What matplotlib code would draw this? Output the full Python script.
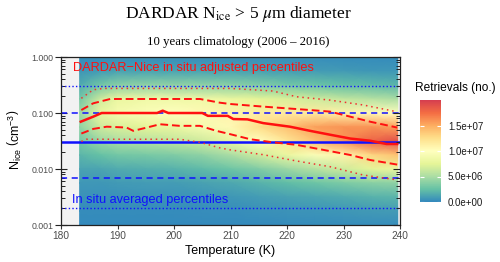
import numpy as np
import matplotlib
matplotlib.use("Agg")
import matplotlib.pyplot as plt
from matplotlib.colors import LinearSegmentedColormap
from matplotlib.ticker import LogLocator, NullFormatter

plt.rcParams['font.family'] = ['Liberation Sans', 'DejaVu Sans']
plt.rcParams['mathtext.fontset'] = 'custom'
plt.rcParams['mathtext.rm'] = 'Liberation Sans'
plt.rcParams['mathtext.it'] = 'Liberation Sans:italic'
plt.rcParams['mathtext.bf'] = 'Liberation Sans:bold'

# heatmap: number of retrievals (millions)
grid_temps = [183.3, 187, 190, 195, 200, 205, 210, 215, 220, 225, 230, 235, 239.6]
grid_log_nice = [0, -0.25, -0.5, -0.75, -1.0, -1.25, -1.5, -1.75, -2.0, -2.25, -2.5, -2.75, -3.0]
# one row per temperature, from log N = 0 down to -3
retrievals_millions = [
    [0.2, 0.6, 1.5, 3.0, 4.5, 4.0, 3.0, 2.0, 1.2, 0.7, 0.4, 0.2, 0.1],
    [0.2, 0.9, 3.0, 6.5, 8.0, 6.5, 4.5, 2.5, 1.3, 0.7, 0.4, 0.2, 0.1],
    [0.3, 1.1, 3.8, 8.0, 9.0, 7.0, 5.0, 3.0, 1.5, 0.8, 0.4, 0.2, 0.1],
    [0.3, 1.2, 4.0, 8.5, 9.5, 7.5, 5.5, 3.2, 1.7, 0.9, 0.5, 0.2, 0.1],
    [0.3, 1.2, 4.0, 8.5, 10.0, 8.0, 6.0, 3.5, 1.8, 0.9, 0.5, 0.2, 0.1],
    [0.3, 1.2, 4.0, 8.5, 10.5, 9.0, 6.5, 4.0, 2.2, 1.1, 0.6, 0.3, 0.1],
    [0.3, 1.2, 3.8, 8.0, 11.0, 10.5, 8.0, 5.0, 2.8, 1.4, 0.7, 0.3, 0.1],
    [0.3, 1.1, 3.5, 7.5, 11.5, 12.5, 10.0, 6.5, 3.5, 1.8, 0.9, 0.4, 0.15],
    [0.3, 1.0, 3.0, 7.0, 11.5, 14.0, 12.0, 8.0, 4.5, 2.3, 1.1, 0.5, 0.2],
    [0.3, 0.9, 2.7, 6.5, 11.5, 15.5, 14.0, 9.5, 5.5, 2.8, 1.3, 0.6, 0.2],
    [0.2, 0.8, 2.4, 6.0, 11.0, 16.0, 16.0, 11.0, 6.5, 3.3, 1.5, 0.7, 0.25],
    [0.2, 0.7, 2.2, 5.5, 10.5, 16.0, 18.0, 13.0, 7.5, 3.8, 1.8, 0.8, 0.3],
    [0.2, 0.7, 2.0, 5.0, 10.0, 15.5, 19.0, 14.0, 8.0, 4.0, 2.0, 0.9, 0.3],
]

# DARDAR-Nice in situ adjusted percentiles
med_temp = [183.5, 185.7, 187.2, 197, 198, 199, 205, 206, 209.5, 210.5, 213, 215.8,
            220.5, 224.1, 227.6, 231.2, 234.7, 237.6, 239.5]
med_nice = [0.070, 0.086, 0.100, 0.100, 0.110, 0.100, 0.100, 0.089, 0.089, 0.078, 0.077, 0.066,
            0.057, 0.048, 0.041, 0.035, 0.032, 0.028, 0.028]
p75_temp = [183.6, 185.7, 188.7, 204.6, 208.1, 209.9, 215.8, 224.1, 227.6, 231.2, 234.7, 239.5]
p75_nice = [0.113, 0.149, 0.178, 0.178, 0.153, 0.145, 0.13, 0.113, 0.106, 0.086, 0.07, 0.055]
p25_temp = [183.6, 185.7, 188.1, 191.6, 192.8, 195.2, 197.5, 201, 204.6, 207.5, 209.9,
            213.5, 217.5, 221.7, 226.4, 231.2, 234.7, 239.5]
p25_nice = [0.043, 0.052, 0.057, 0.055, 0.048, 0.055, 0.063, 0.059, 0.059, 0.048, 0.042,
            0.034, 0.030, 0.027, 0.022, 0.0178, 0.0145, 0.012]
p90_temp = [183.6, 185.7, 187.5, 210, 217.5, 221.7, 227.6, 233.5, 239.5]
p90_nice = [0.183, 0.26, 0.275, 0.275, 0.247, 0.195, 0.17, 0.139, 0.105]
p10_temp = [183.6, 184.5, 201, 204.6, 208, 209.9, 215.8, 221.7, 227.6, 233.5, 239.5]
p10_nice = [0.031, 0.034, 0.034, 0.030, 0.024, 0.022, 0.018, 0.0139, 0.011, 0.0078, 0.0064]

# in situ averaged percentiles (10, 25, 50, 75, 90)
insitu_levels = [0.002, 0.007, 0.03, 0.1, 0.3]

cbar_ticks = [0, 5e6, 1e7, 1.5e7]
cbar_labels = ['0.0e+00', '5.0e+06', '1.0e+07', '1.5e+07']
y_ticks = [0.001, 0.01, 0.1, 1.0]
y_labels = ['0.001', '0.010', '0.100', '1.000']

spectral = ['#3288BD', '#66C2A5', '#ABDDA4', '#E6F598', '#FFFFBF',
            '#FEE08B', '#FDAE61', '#F46D43', '#D53E4F']
cmap = LinearSegmentedColormap.from_list('spec', spectral)

fig = plt.figure(figsize=(5, 2.62), dpi=100)
ax = fig.add_axes([0.122, 0.1412, 0.678, 0.6412])
ax.set_facecolor('#F2F2F2')

counts = np.array(retrievals_millions).T * 1e6
nice_grid = 10.0 ** np.array(grid_log_nice)
mesh = ax.pcolormesh(grid_temps, nice_grid, counts, cmap=cmap, vmin=0, vmax=2e7,
                     shading='gouraud', zorder=1)

for lvl, ls, lw in zip(insitu_levels,
                       [(0, (1, 1.6)), (0, (4, 3)), '-', (0, (4, 3)), (0, (1, 1.6))],
                       [1.0, 1.1, 1.8, 1.1, 1.0]):
    ax.axhline(lvl, color='#1010FF', linestyle=ls, linewidth=lw, zorder=3)

ax.plot(p90_temp, p90_nice, color='#F03030', linestyle=(0, (1, 2.5)), linewidth=1.1, zorder=4)
ax.plot(p10_temp, p10_nice, color='#F03030', linestyle=(0, (1, 2.5)), linewidth=1.1, zorder=4)
ax.plot(p75_temp, p75_nice, color='#FF1010', linestyle=(0, (4, 2)), linewidth=1.4, zorder=4)
ax.plot(p25_temp, p25_nice, color='#FF1010', linestyle=(0, (4, 2)), linewidth=1.4, zorder=4)
ax.plot(med_temp, med_nice, color='#FF1010', linewidth=1.8, zorder=5)

ax.text(182.1, 0.645, 'DARDAR\u2212Nice in situ adjusted percentiles', color='#FF1010',
        fontsize=9.2, va='center', ha='left', zorder=6)
ax.text(182.0, 0.0028, 'In situ averaged percentiles', color='#1010FF',
        fontsize=9.2, va='center', ha='left', zorder=6)

ax.set_yscale('log')
ax.set_xlim(180, 240)
ax.set_ylim(0.001, 1.0)
ax.set_xticks([180, 190, 200, 210, 220, 230, 240])
ax.set_yticks(y_ticks, labels=y_labels)
ax.yaxis.set_minor_locator(LogLocator(base=10, subs=(2, 3, 4, 5, 6, 7, 8, 9), numticks=20))
ax.yaxis.set_minor_formatter(NullFormatter())
ax.tick_params(axis='x', direction='out', length=3, width=0.8, colors='#333333',
               labelsize=7.3, labelcolor='#4D4D4D', pad=1.5)
ax.tick_params(axis='y', which='major', direction='inout', length=9, width=0.8,
               colors='#222222', labelsize=6.3, labelcolor='#4D4D4D', pad=1)
ax.tick_params(axis='y', which='minor', direction='in', length=3, width=0.7,
               colors='#222222', left=True, right=True)
for sp in ax.spines.values():
    sp.set_color('#222222')
    sp.set_linewidth(0.9)
    sp.set_zorder(7)

# log ticks on the right side, pointing inward
axr = ax.twinx()
axr.set_yscale('log')
axr.set_ylim(0.001, 1.0)
axr.set_yticks(y_ticks)
axr.yaxis.set_minor_locator(LogLocator(base=10, subs=(2, 3, 4, 5, 6, 7, 8, 9), numticks=20))
axr.yaxis.set_minor_formatter(NullFormatter())
axr.tick_params(axis='y', which='major', direction='in', length=5, width=0.8,
                colors='#222222', labelright=False)
axr.tick_params(axis='y', which='minor', direction='in', length=3, width=0.7, colors='#222222')
for sp in axr.spines.values():
    sp.set_visible(False)

fig.text(15 / 500, 1 - 140 / 262, r'N$_{\mathrm{ice}}$ $\left(\mathrm{cm}^{-3}\right)$',
         rotation=90, ha='center', va='center', fontsize=9)
fig.text(230 / 500, 1 - 251 / 262, 'Temperature (K)', ha='center', va='center', fontsize=9)

fig.text(238 / 500, 1 - 14 / 262, r'DARDAR N$_{\mathrm{ice}}$ > 5 $\mu$m diameter',
         family='Liberation Serif', math_fontfamily='stix', ha='center', va='center', fontsize=12.5)
fig.text(238 / 500, 1 - 42 / 262, '10 years climatology (2006 \u2013 2016)',
         family='Liberation Serif', ha='center', va='center', fontsize=9.2)

cax = fig.add_axes([420 / 500, 1 - 202 / 262, 21 / 500, 102 / 262])
cbar = fig.colorbar(mesh, cax=cax)
cbar.outline.set_visible(False)
cbar.set_ticks(cbar_ticks, labels=cbar_labels)
cax.tick_params(color='white', direction='in', length=3, width=0.8, left=True, right=True,
                labelsize=7, labelcolor='#1A1A1A', pad=5)
fig.text(415 / 500, 1 - 88 / 262, 'Retrievals (no.)', ha='left', va='center', fontsize=8.6)

fig.savefig('out.png', dpi=100)
